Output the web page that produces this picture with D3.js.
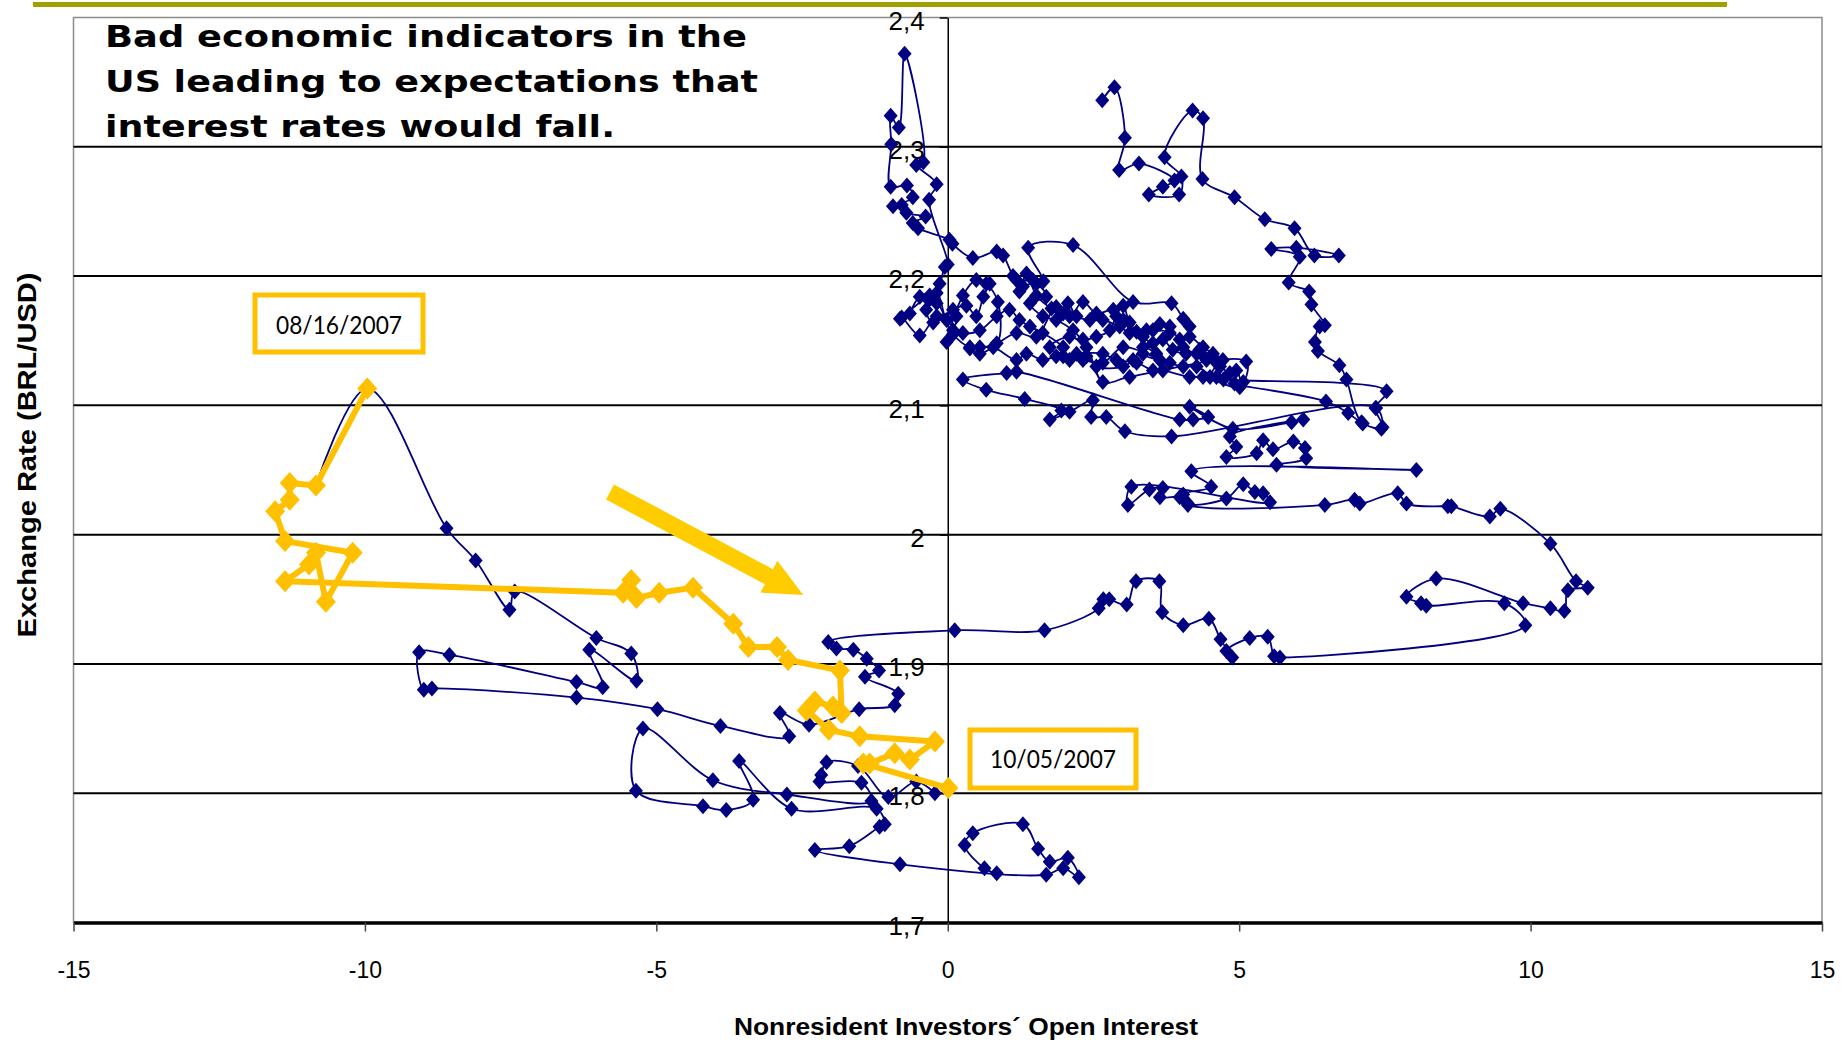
<!DOCTYPE html>
<html>
<head>
<meta charset="utf-8">
<script src="https://cdn.jsdelivr.net/npm/d3@7"></script>
<style>
body { margin: 0; background: #fff; }
svg { display: block; }
</style>
</head>
<body>
<svg id="chart"></svg>
<script>
// axis ticks
var xTicks = [-15, -10, -5, 0, 5, 10, 15];
var yTicks = [1.7, 1.8, 1.9, 2.0, 2.1, 2.2, 2.3, 2.4];

// texts
var titleLines = ["Bad economic indicators in the", "US leading to expectations that", "interest rates would fall."];
var yTitle = "Exchange Rate (BRL/USD)";
var xTitle = "Nonresident Investors\u00B4 Open Interest";
var startLabel = "08/16/2007";
var endLabel = "10/05/2007";

// blue series: [open interest, BRL/USD]
var blueTrack1 = [
  [2.65,2.336],[2.86,2.346],[3.04,2.307],[2.94,2.282],[3.28,2.287],[3.89,2.274],[3.69,2.269],[3.45,2.263],
  [3.97,2.263],[4.01,2.277],[3.72,2.292],[4.20,2.328],[4.38,2.322],[4.37,2.275],[4.92,2.261],[5.44,2.244],
  [5.95,2.237],[6.29,2.216],[6.71,2.216],[5.98,2.222],[5.55,2.221],[6.04,2.215],[5.85,2.195],[6.20,2.188],
  [6.24,2.178],[6.47,2.162],[6.38,2.161],[6.30,2.149],[6.35,2.142],[6.72,2.131],[6.84,2.120],[7.10,2.087],
  [7.46,2.083],[7.34,2.098],[7.53,2.111],[4.73,2.120],[4.50,2.122],[4.61,2.133],[4.39,2.138],[4.27,2.140],
  [4.04,2.145],[4.15,2.161],[4.04,2.167],[3.84,2.179],[3.18,2.180],[2.15,2.224],[1.38,2.222],[1.64,2.196],
  [1.46,2.197],[1.18,2.197],[0.95,2.216],[0.84,2.219],[0.43,2.214],[0.08,2.225],[0.03,2.228],
  [-0.51,2.237],[-0.60,2.241],[-0.38,2.246],[-0.71,2.249],[-0.79,2.255],[-0.94,2.254],[-0.60,2.261],
  [-0.70,2.270],[-0.98,2.269],[-0.97,2.302],[-0.98,2.324],[-0.84,2.315],[-0.74,2.372],[-0.42,2.288],
  [-0.54,2.286],[-0.19,2.271],[-0.32,2.259],[0.00,2.209],[-0.05,2.207],[-0.14,2.194],[-0.34,2.182],
  [-0.31,2.185],[-0.82,2.167],[-0.79,2.168],[-0.48,2.154],[-0.19,2.169],[0.15,2.169],[0.09,2.158],
  [-0.02,2.149],[0.26,2.185],[0.49,2.197],[0.66,2.194],[0.86,2.180],[0.84,2.148],[0.38,2.144],[0.55,2.140],
  [1.18,2.156],[1.52,2.153],[1.86,2.176],[2.09,2.169],[2.32,2.180],[2.55,2.171],[2.84,2.174],[3.01,2.166],
  [3.24,2.157],[3.52,2.158],[3.81,2.156],[3.35,2.140],[3.64,2.135],[3.01,2.145],[2.66,2.133],[2.32,2.135],
  [1.98,2.138],[1.75,2.145],[2.09,2.153],[2.38,2.145],[2.66,2.118],[3.12,2.122],[5.12,2.134],[5.07,2.118],
  [4.92,2.117],[6.49,2.103],[6.87,2.094],[7.12,2.086],[7.44,2.082],[7.35,2.098],[3.84,2.076],[3.04,2.080],
  [2.72,2.091],[2.46,2.091],[2.49,2.104],[2.09,2.095],[1.75,2.089],[1.95,2.096],[1.32,2.105],[0.66,2.112],
  [0.26,2.120],[1.01,2.125],[1.18,2.126],[3.98,2.089],[4.21,2.089],[4.47,2.091],[4.15,2.099],[4.89,2.082],
  [5.90,2.087],[6.10,2.089],[4.84,2.076],[4.95,2.068],[4.78,2.060],[5.30,2.063],[5.41,2.073],[5.58,2.066],
  [5.93,2.072],[6.13,2.067],[6.15,2.059],[5.64,2.054],[8.04,2.050],[4.18,2.049],[4.52,2.037],[4.04,2.031],
  [4.12,2.024],[4.78,2.028],[5.07,2.039],[5.27,2.033],[5.41,2.032],[5.53,2.025],[3.15,2.037],[3.09,2.023],
  [3.46,2.035],[3.69,2.036],[3.64,2.029],[3.98,2.029],[4.12,2.023],[6.47,2.023],[6.98,2.027],[7.07,2.024],
  [7.72,2.032],[7.87,2.024],[8.58,2.022],[8.64,2.022],[9.30,2.014],[9.48,2.020],[10.34,1.993],[10.78,1.964],
  [10.98,1.959],[10.64,1.957],[10.58,1.941],[10.34,1.943],[9.87,1.947],[8.38,1.966],[7.87,1.952],[8.12,1.947],
  [8.21,1.945],[9.55,1.947],[9.91,1.930],[5.70,1.905],[5.60,1.906],[5.49,1.921],[5.18,1.920],[4.78,1.910],
  [4.88,1.905],[4.68,1.919],[4.48,1.935],[4.04,1.930],[3.68,1.940],[3.63,1.964],[3.23,1.964],[3.07,1.946],
  [2.77,1.950],[2.67,1.950],[2.59,1.943],[1.66,1.926],[0.12,1.926],[-2.05,1.917],[-1.91,1.912],[-1.62,1.911],
  [-1.39,1.904],[-1.18,1.895],[-1.42,1.890],[-0.85,1.877],[-0.91,1.868],[-1.52,1.865],[-2.38,1.853],
  [-2.88,1.862],[-2.72,1.844],[-3.90,1.852],[-4.98,1.865],[-6.37,1.874],[-8.85,1.881],[-8.99,1.880],
  [-9.07,1.909],[-8.55,1.907],[-6.37,1.886],[-5.92,1.882],[-6.15,1.911],[-5.34,1.887],[-5.43,1.908],
  [-6.03,1.920],[-7.43,1.956],[-7.52,1.942],[-8.10,1.980],[-8.60,2.005],[-9.96,2.113],[-10.84,2.038]
];

// dense part of the cluster
var blueTrack2 = [
  [1.29,2.192],[1.52,2.194],[1.69,2.184],[1.41,2.179],[1.63,2.169],[1.86,2.166],[2.15,2.158],[2.32,2.151],
  [2.55,2.153],[2.78,2.158],[2.89,2.169],[3.01,2.177],[3.12,2.164],[3.35,2.153],[3.52,2.148],[3.69,2.151],
  [3.86,2.143],[4.09,2.140],[4.32,2.143],[4.44,2.135],[4.67,2.130],[4.84,2.125],[4.95,2.127],[5.01,2.114],
  [4.38,2.122],[4.15,2.122],[3.69,2.127],[3.52,2.127],[3.24,2.133],[2.89,2.135],[2.66,2.140],[2.21,2.140],
  [1.86,2.138],[1.63,2.135],[1.35,2.140],[1.18,2.135],[0.78,2.145],[0.55,2.145],[0.38,2.145],[0.09,2.155],
  [-0.19,2.179],[-0.37,2.174],[-0.25,2.164],[0.09,2.174],[0.32,2.177],[0.49,2.169],[0.61,2.184],[0.72,2.194]
];

var blueTrack4 = [
  [1.12,2.200],[1.23,2.188],[1.35,2.202],[1.52,2.185],[1.78,2.175],[1.98,2.171],[2.06,2.179],[2.21,2.169],
  [2.44,2.166],[2.66,2.166],[2.95,2.161],[3.12,2.156],[3.41,2.158],[3.64,2.163],[3.81,2.161],[3.98,2.151],
  [4.15,2.153],[4.38,2.145],[4.55,2.140],[4.72,2.135],[4.61,2.122],[4.27,2.130],[4.04,2.130],[3.81,2.133],
  [3.58,2.140],[3.35,2.145],[3.18,2.135],[3.01,2.130],[2.55,2.130],[2.38,2.138],[2.09,2.135],[1.98,2.145],
  [1.63,2.156],[1.41,2.161],[1.23,2.166],[1.06,2.174],[0.84,2.169],[0.55,2.158],[0.26,2.156],[-0.02,2.166],
  [-0.19,2.187],[-0.48,2.184],[-0.65,2.171]
];

// lower loops
var blueTrack3 = [
  [-0.22,1.800],[-0.54,1.809],[-1.02,1.797],[-1.54,1.821],[-2.08,1.824],[-2.17,1.814],[-2.20,1.809],
  [-1.48,1.808],[-1.31,1.794],[-2.76,1.799],[-4.03,1.810],[-5.23,1.850],[-5.35,1.802],[-4.20,1.790],
  [-3.80,1.787],[-3.34,1.795],[-3.58,1.825],[-2.68,1.788],[-1.22,1.788],[-1.08,1.776],[-1.17,1.774],
  [-1.69,1.759],[-2.28,1.756],[-0.82,1.745],[1.69,1.737],[1.98,1.742],[2.25,1.735],[2.06,1.750],
  [1.75,1.747],[1.55,1.757],[1.29,1.776],[0.43,1.769],[0.29,1.760],[0.63,1.742],[0.84,1.738]
];

// highlighted period 08/16/2007 -> 10/05/2007
var yellowTrack = [
  [-9.96,2.113],[-10.84,2.038],[-11.29,2.040],[-11.29,2.027],[-11.54,2.018],[-11.37,1.995],[-10.21,1.986],
  [-10.67,1.948],[-10.84,1.986],[-10.96,1.977],[-11.37,1.964],[-5.57,1.955],[-5.43,1.965],[-5.34,1.951],
  [-4.95,1.955],[-4.37,1.959],[-3.68,1.931],[-3.42,1.913],[-2.93,1.913],[-2.74,1.903],[-1.85,1.895],
  [-1.82,1.862],[-1.97,1.867],[-2.28,1.871],[-2.42,1.864],[-2.04,1.849],[-1.51,1.844],[-0.22,1.840],
  [-0.65,1.826],[-0.91,1.831],[-1.34,1.823],[-1.45,1.823],[0.01,1.804]
];

var width = 1841, height = 1043;
var svg = d3.select("#chart").attr("width", width).attr("height", height);

var x = d3.scaleLinear().domain([-15, 15]).range([73.5, 1822]);
var y = d3.scaleLinear().domain([1.7, 2.4]).range([922.5, 17.5]);

function fmtY(d) { return String(+d.toFixed(1)).replace(".", ","); }

//olive rule at the very top of the slide
svg.append("line")
  .attr("x1", 33).attr("x2", 1727).attr("y1", 4.5).attr("y2", 4.5)
  .attr("stroke", "#a0a000").attr("stroke-width", 5);

//plot area frame
svg.append("rect")
  .attr("x", x(-15)).attr("y", y(2.4))
  .attr("width", x(15) - x(-15)).attr("height", y(1.7) - y(2.4))
  .attr("fill", "none").attr("stroke", "#8c8c8c").attr("stroke-width", 1.5);

//horizontal gridlines
svg.append("g").selectAll("line")
  .data(yTicks.filter(function(d){ return d > 1.75 && d < 2.35; }))
  .join("line")
  .attr("x1", x(-15)).attr("x2", x(15))
  .attr("y1", function(d){ return y(d); }).attr("y2", function(d){ return y(d); })
  .attr("stroke", "#000").attr("stroke-width", 2);

//y axis sits on x = 0
var yAxis = svg.append("g")
  .attr("transform", "translate(" + x(0) + ",0)")
  .call(d3.axisLeft(y).tickValues(yTicks).tickFormat(fmtY).tickSize(8).tickSizeOuter(0).tickPadding(15));
yAxis.select(".domain").attr("stroke", "#000").attr("stroke-width", 1.5);
yAxis.selectAll(".tick line").attr("stroke", "#000").attr("stroke-width", 1.5);
yAxis.selectAll(".tick text")
  .attr("font-family", "Liberation Sans, Arial, sans-serif")
  .attr("font-size", 26).attr("fill", "#000").attr("dy", "0.45em");

//x axis at the bottom
var xAxis = svg.append("g")
  .attr("transform", "translate(0," + y(1.7) + ")")
  .call(d3.axisBottom(x).tickValues(xTicks).tickFormat(d3.format("d")).tickSize(9).tickSizeOuter(0).tickPadding(30));
xAxis.select(".domain").attr("stroke", "#000").attr("stroke-width", 3.5);
xAxis.selectAll(".tick line").attr("stroke", "#444").attr("stroke-width", 1.5);
xAxis.selectAll(".tick text")
  .attr("font-family", "Liberation Sans, Arial, sans-serif")
  .attr("font-size", 23).attr("fill", "#000")
  .text(function(d){ return d < 0 ? "-" + Math.abs(d) : d; });

//axis titles
svg.append("text")
  .attr("transform", "translate(36,455) rotate(-90)")
  .attr("text-anchor", "middle")
  .attr("font-family", "Liberation Sans, Arial, sans-serif")
  .attr("font-weight", "bold").attr("font-size", 25)
  .attr("textLength", 365).attr("lengthAdjust", "spacingAndGlyphs")
  .text(yTitle);

svg.append("text")
  .attr("x", 966).attr("y", 1035)
  .attr("text-anchor", "middle")
  .attr("font-family", "Liberation Sans, Arial, sans-serif")
  .attr("font-weight", "bold").attr("font-size", 24)
  .attr("textLength", 464).attr("lengthAdjust", "spacingAndGlyphs")
  .text(xTitle);

//series
var line = d3.line()
  .x(function(d){ return x(d[0]); })
  .y(function(d){ return y(d[1]); })
  .curve(d3.curveCatmullRom.alpha(0.5));

//the highlighted period is drawn with straight segments
var yellowLine = d3.line()
  .x(function(d){ return x(d[0]); })
  .y(function(d){ return y(d[1]); })
  .curve(d3.curveLinear);

function diamond(w, h) {
  return "M0," + (-h) + "L" + w + ",0L0," + h + "L" + (-w) + ",0Z";
}

var blueTracks = [blueTrack1, blueTrack2, blueTrack4, blueTrack3];
var blue = svg.append("g");
blue.selectAll("path.track")
  .data(blueTracks)
  .join("path")
  .attr("class", "track")
  .attr("d", line)
  .attr("fill", "none").attr("stroke", "#000080").attr("stroke-width", 1.8);

blue.selectAll("path.mark")
  .data(d3.merge(blueTracks))
  .join("path")
  .attr("class", "mark")
  .attr("d", diamond(7, 8))
  .attr("transform", function(d){ return "translate(" + x(d[0]) + "," + y(d[1]) + ")"; })
  .attr("fill", "#000080");

var yel = svg.append("g");
yel.append("path")
  .datum(yellowTrack)
  .attr("d", yellowLine)
  .attr("fill", "none").attr("stroke", "#ffc000").attr("stroke-width", 6)
  .attr("stroke-linejoin", "round");
yel.selectAll("path.mark")
  .data(yellowTrack)
  .join("path")
  .attr("class", "mark")
  .attr("d", diamond(10, 11))
  .attr("transform", function(d){ return "translate(" + x(d[0]) + "," + y(d[1]) + ")"; })
  .attr("fill", "#ffc000");

//big yellow arrow
(function(){
  var tail = [610, 492], tip = [803.3, 595];
  var shaftW = 17, headW = 36, headL = 39;
  var dx = tip[0] - tail[0], dy = tip[1] - tail[1];
  var len = Math.sqrt(dx * dx + dy * dy);
  var ux = dx / len, uy = dy / len, nx = -uy, ny = ux;
  var bx = tip[0] - ux * headL, by = tip[1] - uy * headL;
  var pts = [
    [tail[0] + nx * shaftW / 2, tail[1] + ny * shaftW / 2],
    [bx + nx * shaftW / 2, by + ny * shaftW / 2],
    [bx + nx * headW / 2, by + ny * headW / 2],
    tip,
    [bx - nx * headW / 2, by - ny * headW / 2],
    [bx - nx * shaftW / 2, by - ny * shaftW / 2],
    [tail[0] - nx * shaftW / 2, tail[1] - ny * shaftW / 2]
  ];
  svg.append("path")
    .attr("d", "M" + pts.map(function(p){ return p[0] + "," + p[1]; }).join("L") + "Z")
    .attr("fill", "#ffcc00");
})();

//date boxes
function dateBox(x0, y0, w, h, label, tx, ty) {
  svg.append("rect")
    .attr("x", x0).attr("y", y0).attr("width", w).attr("height", h)
    .attr("fill", "#fff").attr("stroke", "#ffc000").attr("stroke-width", 5);
  svg.append("text")
    .attr("x", tx).attr("y", ty)
    .attr("text-anchor", "middle")
    .attr("font-family", "Lato, 'Open Sans', sans-serif")
    .attr("font-size", 25)
    .attr("textLength", 126).attr("lengthAdjust", "spacingAndGlyphs")
    .text(label);
}
dateBox(255, 295, 168, 57, startLabel, 339, 334);
dateBox(970, 730, 166, 58, endLabel, 1053, 768);

//headline
svg.append("g").selectAll("text")
  .data(titleLines)
  .join("text")
  .attr("x", 105)
  .attr("y", function(d, i){ return 47 + i * 45; })
  .attr("font-family", "'DejaVu Sans', Verdana, sans-serif")
  .attr("font-weight", "bold").attr("font-size", 31)
  .attr("textLength", function(d, i){ return [642, 653, 510][i]; })
  .attr("lengthAdjust", "spacingAndGlyphs")
  .text(function(d){ return d; });
</script>
</body>
</html>
